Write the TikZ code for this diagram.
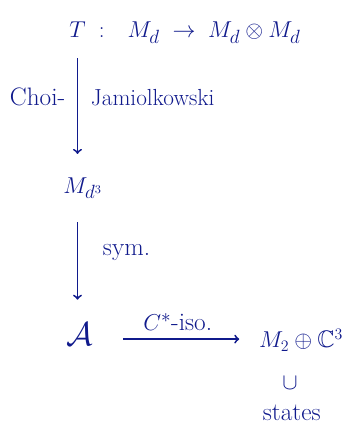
\documentclass[tikz,border=0pt]{standalone}
\usepackage{amsmath, amssymb}
\usepackage{xcolor}
\definecolor{ink-blue}{HTML}{101A8C}

\begin{document}
\begin{tikzpicture}[every node/.style={font=\fontsize{19}{23}\selectfont, text=ink-blue},
    arr/.style={->, line width=1.4pt, draw=ink-blue}]
    \useasboundingbox (0,0) rectangle (9.206,-11.481);
    % objects
    \node (T) at (2.05,-0.79) {$T$};
    \node[anchor=base west, inner sep=0pt] (Tmap) at ([xshift=0.22cm]T.base east)
      {$:\;\;\, M_d \;\to\; M_d \otimes M_d$};
    \node[anchor=base west] (Mdc) at (1.55,-5.11) {$M_{d^3}$};
    \node[font=\fontsize{34}{38}\selectfont] (A) at (2.12,-8.85) {$\mathcal{A}$};
    \node[anchor=east, font=\fontsize{18}{22}\selectfont] (M2C) at (9.2,-9.0)
      {$M_2 \oplus \mathbb{C}^3$};
    \node (sub) at (7.67,-10.13) {$\cup$};
    \node (st) at (7.72,-10.93) {states};
    % maps
    \draw[arr, shorten <=0.42cm, shorten >=0.5cm] (T) -- (T |- Mdc.north);
    \node[anchor=east] (choi) at (1.85,-2.57) {Choi-};
    \node[anchor=west, font=\fontsize{17.5}{21}\selectfont] (jam) at (2.28,-2.57) {Jamiolkowski};
    \draw[arr, shorten <=0.5cm, shorten >=0.5cm] (T |- Mdc.south) -- (T |- A.north);
    \node[anchor=west] (sym) at (2.6,-6.67) {sym.};
    \draw[arr, shorten <=1.14cm, shorten >=0.4cm] ([yshift=-0.12cm]A.center) -- ([yshift=-0.12cm]A.center -| M2C.west)
      node[pos=0.56, above=2pt] (iso) {$C^*$-iso.};
\end{tikzpicture}
\end{document}
